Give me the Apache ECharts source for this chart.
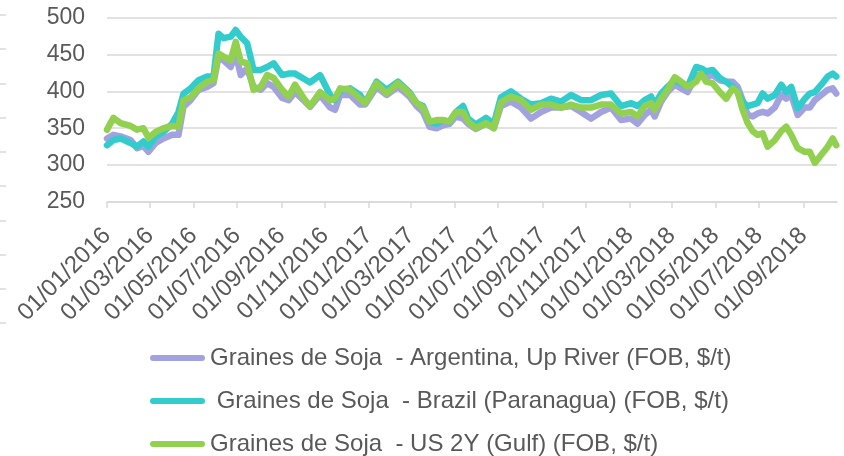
<!DOCTYPE html>
<html>
<head>
<meta charset="utf-8">
<script src="https://cdn.jsdelivr.net/npm/echarts@6/dist/echarts.min.js"></script>
<style>
  html, body { margin: 0; padding: 0; background: #fff; }
  #chart { width: 844px; height: 456px; }
</style>
</head>
<body>
<div id="chart"></div>
<script>
const dates = [
  '2016-01-01', '2016-01-10', '2016-01-20', '2016-02-03', '2016-02-12', '2016-02-21', '2016-02-28',
  '2016-03-09', '2016-03-20', '2016-04-01', '2016-04-10', '2016-04-17', '2016-04-27', '2016-05-08',
  '2016-05-20', '2016-05-29', '2016-06-05', '2016-06-12', '2016-06-22', '2016-06-29', '2016-07-06',
  '2016-07-15', '2016-07-24', '2016-08-03', '2016-08-12', '2016-08-21', '2016-09-02', '2016-09-11',
  '2016-09-20', '2016-10-04', '2016-10-11', '2016-10-25', '2016-11-08', '2016-11-15', '2016-11-22',
  '2016-12-06', '2016-12-20', '2016-12-27', '2017-01-12', '2017-01-26', '2017-02-11', '2017-02-27',
  '2017-03-09', '2017-03-18', '2017-03-27', '2017-04-06', '2017-04-15', '2017-04-24', '2017-05-03',
  '2017-05-13', '2017-05-20', '2017-05-31', '2017-06-14', '2017-06-25', '2017-07-05', '2017-07-19',
  '2017-08-02', '2017-08-16', '2017-08-30', '2017-09-13', '2017-09-27', '2017-10-11', '2017-10-25',
  '2017-11-08', '2017-11-22', '2017-12-06', '2017-12-20', '2018-01-03', '2018-01-12', '2018-01-22',
  '2018-01-31', '2018-02-05', '2018-02-14', '2018-02-23', '2018-03-05', '2018-03-14', '2018-03-23',
  '2018-04-04', '2018-04-11', '2018-04-18', '2018-04-27', '2018-05-07', '2018-05-16', '2018-05-25',
  '2018-06-01', '2018-06-08', '2018-06-15', '2018-06-22', '2018-06-29', '2018-07-06', '2018-07-13',
  '2018-07-23', '2018-08-01', '2018-08-08', '2018-08-15', '2018-08-24', '2018-09-03', '2018-09-10',
  '2018-09-17', '2018-09-26', '2018-10-05', '2018-10-12', '2018-10-17'
];

const argentina = [
  336, 341, 339, 334, 323, 326, 318,
  330, 336, 341, 341, 379, 388, 402,
  406, 411, 447, 442, 433, 451, 422,
  431, 406, 402, 411, 406, 391, 388,
  399, 386, 379, 395, 378, 375, 395,
  395, 382, 382, 406, 395, 406, 393,
  380, 372, 352, 350, 354, 356, 366,
  363, 356, 349, 356, 350, 380, 386,
  378, 363, 372, 378, 378, 380, 372,
  363, 372, 378, 361, 363, 356, 368,
  375, 366, 386, 399, 409, 404, 399,
  420, 424, 420, 422, 415, 413, 413,
  406, 388, 368, 366, 370, 372, 370,
  378, 395, 390, 395, 368, 378, 378,
  388, 395, 402, 404, 397
];

const brazil = [
  327, 334, 336, 330, 325, 332, 325,
  339, 345, 356, 372, 397, 404, 415,
  420, 420, 478, 472, 474, 483, 474,
  465, 429, 429, 433, 438, 422, 424,
  424, 416, 412, 422, 395, 388, 402,
  404, 395, 384, 413, 402, 413, 399,
  384, 380, 359, 356, 361, 359, 372,
  380, 363, 355, 364, 356, 392, 400,
  390, 382, 384, 390, 386, 395, 388,
  388, 395, 397, 380, 384, 380, 388,
  393, 382, 397, 406, 415, 411, 406,
  433, 431, 427, 429, 418, 413, 406,
  399, 386, 380, 382, 384, 397, 390,
  395, 409, 399, 406, 377, 390, 397,
  399, 409, 420, 424, 420
];

const usGulf = [
  348, 364, 357, 353, 348, 350, 337,
  345, 350, 353, 352, 388, 392, 404,
  413, 415, 451, 447, 442, 467, 440,
  438, 402, 406, 422, 418, 402, 393,
  409, 388, 380, 399, 388, 390, 404,
  402, 390, 384, 411, 397, 411, 397,
  384, 378, 359, 361, 361, 359, 372,
  372, 359, 350, 357, 350, 385, 393,
  388, 375, 382, 382, 378, 382, 378,
  378, 382, 382, 370, 372, 366, 380,
  384, 375, 390, 402, 419, 413, 406,
  413, 424, 413, 411, 399, 390, 404,
  399, 375, 357, 346, 341, 343, 325,
  334, 346, 352, 341, 323, 318, 318,
  303, 314, 325, 336, 327
];

const seriesNames = [
  'Graines de Soja  - Argentina, Up River (FOB, $/t)',
  ' Graines de Soja  - Brazil (Paranagua) (FOB, $/t)',
  'Graines de Soja  - US 2Y (Gulf) (FOB, $/t)'
];

const tickDates = [
  '2016-01-01', '2016-03-01', '2016-05-01', '2016-07-01', '2016-09-01', '2016-11-01',
  '2017-01-01', '2017-03-01', '2017-05-01', '2017-07-01', '2017-09-01', '2017-11-01',
  '2018-01-01', '2018-03-01', '2018-05-01', '2018-07-01', '2018-09-01'
];

const toTime = s => echarts.number.parseDate(s).getTime();
const pad = n => (n < 10 ? '0' : '') + n;
const fmtDate = v => {
  const d = new Date(v);
  return pad(d.getDate()) + '/' + pad(d.getMonth() + 1) + '/' + d.getFullYear();
};
const pairs = vals => dates.map((d, i) => [toTime(d), vals[i]]);
const tickTimes = tickDates.map(toTime);

const textColor = '#595959';
const gridColor = '#d9d9d9';
const colors = ['#a3a2e0', '#33cccc', '#92d050'];
const legendIcon = 'path://M3,0 L52,0 A3,3 0 0 1 52,6 L3,6 A3,3 0 0 1 3,0 Z';

const chart = echarts.init(document.getElementById('chart'));

const lineSeries = (name, vals, color) => ({
  name: name,
  type: 'line',
  data: pairs(vals),
  showSymbol: false,
  symbol: 'none',
  color: color,
  lineStyle: { width: 6.5, color: color, cap: 'round', join: 'round' }
});

chart.setOption({
  animation: false,
  textStyle: { fontFamily: 'Liberation Sans, Arial, sans-serif' },
  grid: [
    { left: 107, right: 7, top: 17.5, bottom: 254 },
    { left: 6, width: 1, top: 15, height: 308 }
  ],
  xAxis: [
    {
      type: 'value',
      min: toTime('2016-01-01'),
      max: toTime('2018-10-18'),
      axisLine: { lineStyle: { color: gridColor, width: 1.5 } },
      axisTick: { show: true, customValues: tickTimes, length: 6, lineStyle: { color: gridColor, width: 1.5 } },
      axisLabel: {
        customValues: tickTimes,
        rotate: 45,
        margin: 30,
        fontSize: 24,
        color: textColor,
        formatter: fmtDate
      },
      splitLine: { show: false }
    },
    { gridIndex: 1, type: 'value', show: false }
  ],
  yAxis: [
    {
      type: 'value',
      min: 250,
      max: 500,
      interval: 50,
      axisLine: { show: false },
      axisTick: { show: false },
      axisLabel: { fontSize: 23, color: textColor, margin: 22 },
      splitLine: { lineStyle: { color: gridColor, width: 1.5 } }
    },
    {
      gridIndex: 1,
      type: 'value',
      min: 0,
      max: 9,
      interval: 1,
      axisLine: { show: false },
      axisTick: { show: true, length: 6, lineStyle: { color: gridColor, width: 1.5 } },
      axisLabel: { show: false },
      splitLine: { show: false }
    }
  ],
  legend: {
    orient: 'vertical',
    left: 150,
    top: 346,
    height: 110,
    padding: 0,
    itemGap: 19,
    itemWidth: 55,
    itemHeight: 6,
    icon: legendIcon,
    textStyle: { fontSize: 24, lineHeight: 24, color: textColor },
    data: seriesNames
  },
  series: [
    lineSeries(seriesNames[0], argentina, colors[0]),
    lineSeries(seriesNames[1], brazil, colors[1]),
    lineSeries(seriesNames[2], usGulf, colors[2])
  ]
});
</script>
</body>
</html>
